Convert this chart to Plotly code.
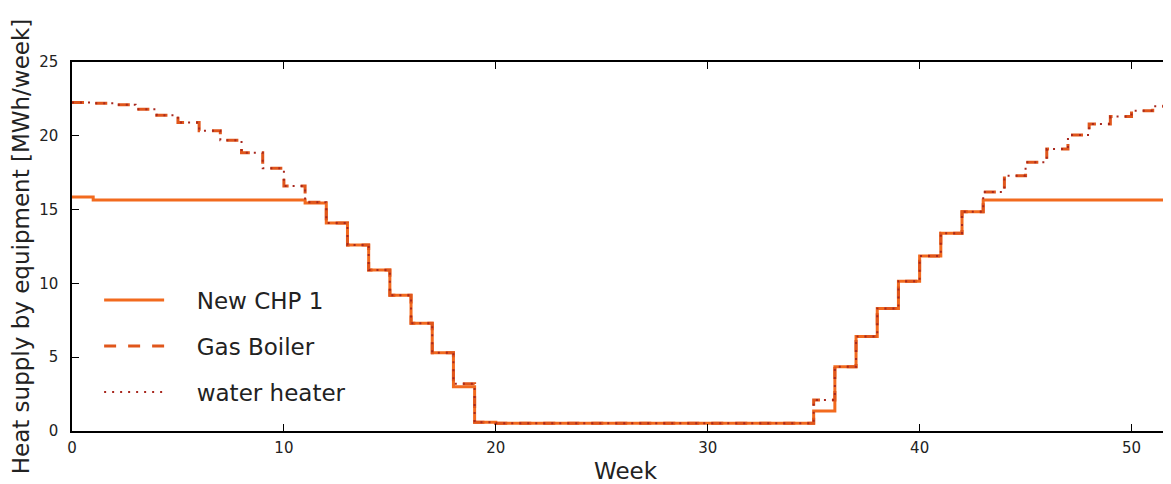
import plotly.graph_objects as go

# ---- data ----
weeks = list(range(53))  # week boundaries 0..52

chp_line = [15.85, 15.65, 15.65, 15.65, 15.65, 15.65, 15.65, 15.65, 15.65, 15.65,
            15.65, 15.45, 14.1, 12.6, 10.9, 9.2, 7.3, 5.3, 3.0, 0.6,
            0.52, 0.52, 0.52, 0.52, 0.52, 0.52, 0.52, 0.52, 0.52, 0.52,
            0.52, 0.52, 0.52, 0.52, 0.52, 1.35, 4.35, 6.4, 8.3, 10.15,
            11.85, 13.4, 14.85, 15.65, 15.65, 15.65, 15.65, 15.65, 15.65, 15.65,
            15.65, 15.65]

boiler_line = [22.25, 22.2, 22.1, 21.8, 21.4, 20.9, 20.35, 19.7, 18.85, 17.8,
               16.6, 15.5, 14.1, 12.6, 10.9, 9.2, 7.3, 5.3, 3.2, 0.6,
               0.52, 0.52, 0.52, 0.52, 0.52, 0.52, 0.52, 0.52, 0.52, 0.52,
               0.52, 0.52, 0.52, 0.52, 0.52, 2.1, 4.35, 6.4, 8.3, 10.15,
               11.85, 13.4, 14.85, 16.2, 17.3, 18.2, 19.1, 20.05, 20.8, 21.3,
               21.7, 22.0]

heater_line = [22.25, 22.2, 22.1, 21.8, 21.4, 20.9, 20.35, 19.7, 18.85, 17.8,
               16.6, 15.5, 14.1, 12.6, 10.9, 9.2, 7.3, 5.3, 3.2, 0.6,
               0.52, 0.52, 0.52, 0.52, 0.52, 0.52, 0.52, 0.52, 0.52, 0.52,
               0.52, 0.52, 0.52, 0.52, 0.52, 2.1, 4.35, 6.4, 8.3, 10.15,
               11.85, 13.4, 14.85, 16.2, 17.3, 18.2, 19.1, 20.05, 20.8, 21.3,
               21.7, 22.0]

series_names = ["New CHP 1", "Gas Boiler", "water heater"]
x_ticks = [0, 10, 20, 30, 40, 50]
y_ticks = [0, 5, 10, 15, 20, 25]

# ---- styling ----
styles = [
    dict(color="#F26A1E", width=3, dash="solid"),
    dict(color="#E0561B", width=3, dash="12px,12px"),
    dict(color="#A8281E", width=2, dash="2px,6px"),
]
label_pad = "\u2003\u2009"  # visual gap between legend symbol and label

fig = go.Figure()
for i, (name, vals) in enumerate(zip(series_names, [chp_line, boiler_line, heater_line])):
    y = list(vals) + [vals[-1]]  # close the last weekly step at week 52
    fig.add_trace(go.Scatter(
        x=weeks, y=y, mode="lines", name=label_pad + name,
        line=dict(shape="hv", **styles[i]),
        legendgroup=f"g{i}",
    ))

font_family = "DejaVu Sans"
txt = "#222222"
fig.update_layout(
    width=1171, height=484,
    margin=dict(l=64, r=0, t=54, b=61),
    plot_bgcolor="white", paper_bgcolor="white",
    font=dict(family=font_family, color=txt),
    showlegend=True,
    legend=dict(
        x=0.0245, y=0.23, xanchor="left", yanchor="middle",
        bgcolor="rgba(255,255,255,0)", borderwidth=0,
        font=dict(size=23, family=font_family, color=txt),
        tracegroupgap=13, itemwidth=60,
    ),
)
fig.update_xaxes(
    range=[0, 52.24], tickvals=x_ticks, ticktext=[str(v) for v in x_ticks],
    ticks="inside", ticklen=7, tickcolor="black", tickwidth=1,
    showline=True, linecolor="black", linewidth=1.5, mirror="ticks",
    showgrid=False, zeroline=False, automargin=False, ticklabelstandoff=2,
    tickfont=dict(size=15, family=font_family, color=txt),
    title=dict(text="Week", font=dict(size=23, family=font_family, color=txt), standoff=7),
)
fig.update_yaxes(
    range=[0, 25], tickvals=y_ticks, ticktext=[str(v) for v in y_ticks],
    ticks="inside", ticklen=7, tickcolor="black", tickwidth=1,
    showline=True, linecolor="black", linewidth=1.5, mirror="ticks",
    showgrid=False, zeroline=False, automargin=False, ticklabelstandoff=9,
    tickfont=dict(size=15, family=font_family, color=txt),
    title=dict(text="Heat supply by equipment [MWh/week]",
               font=dict(size=23, family=font_family, color=txt), standoff=12),
)

fig.write_html("out.html")
